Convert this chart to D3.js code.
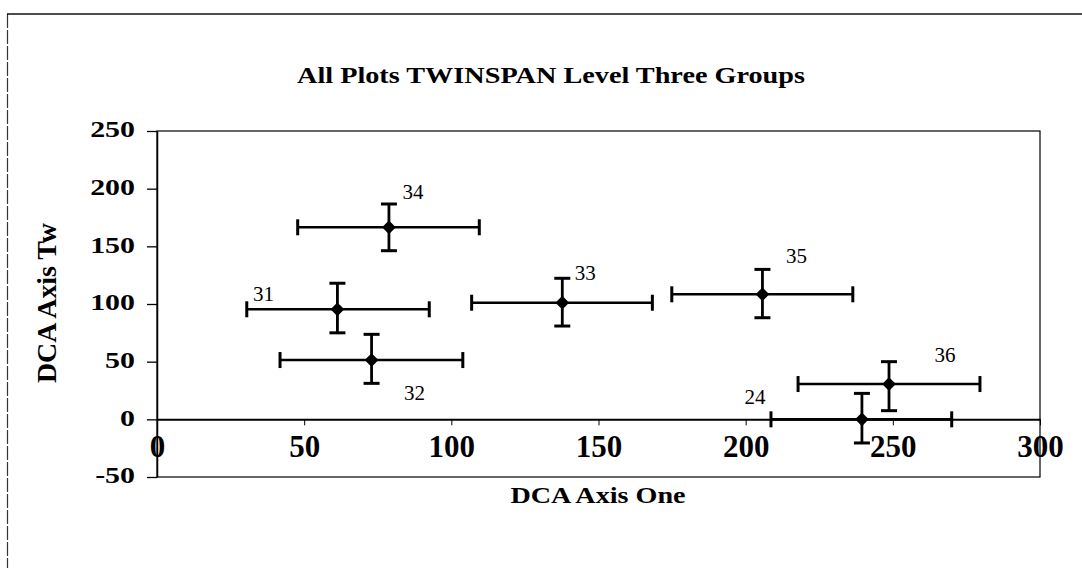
<!DOCTYPE html>
<html>
<head>
<meta charset="utf-8">
<script src="https://cdn.jsdelivr.net/npm/d3@7"></script>
<style>
  html, body { margin: 0; padding: 0; background: #fff; }
  svg { display: block; }
  text { font-family: "Liberation Serif", "Times New Roman", serif; fill: #000; }
</style>
</head>
<body>
<svg id="chart" width="1082" height="568"></svg>
<script>
// ---- data ----
const groups = ["31", "32", "33", "34", "35", "36", "24"];
const xMean  = [61.3, 72.9, 137.7, 78.8, 205.7, 248.7, 239.5];
const yMean  = [95.4, 51.4, 101.1, 166.5, 108.4, 30.6, 0];
const xLow   = [30.5, 41.8, 106.9, 47.8, 174.9, 217.8, 208.6];
const xHigh  = [92.5, 103.9, 168.3, 109.5, 236.4, 279.6, 270.0];
const yLow   = [75.0, 31.2, 80.9, 146.2, 88.1, 7.5, -20.5];
const yHigh  = [118.0, 73.7, 122.3, 186.7, 130.0, 50.0, 22.5];
const xTicks = [0, 50, 100, 150, 200, 250, 300];
const yTicks = [-50, 0, 50, 100, 150, 200, 250];
const titleText = "All Plots TWINSPAN Level Three Groups";
const xTitle = "DCA Axis One";
const yTitle = "DCA Axis Tw";

// ---- layout (pixel offsets of the group labels relative to their point) ----
const labelOffset = {
  "31": [-74, -16], "32": [43, 33], "33": [23, -30], "34": [24, -36],
  "35": [34, -39], "36": [56, -29], "24": [-107, -23]
};

const svg = d3.select("#chart");
const plot = { left: 157, right: 1040, top: 131, bottom: 477 };

const x = d3.scaleLinear().domain([0, 300]).range([plot.left, plot.right]);
const y = d3.scaleLinear().domain([-50, 250]).range([plot.bottom, plot.top]);

// outer frame (only left and top visible)
svg.append("line").attr("x1", 7.5).attr("x2", 7.5).attr("y1", 14).attr("y2", 568)
  .attr("stroke", "#333").attr("stroke-width", 1.2).attr("stroke-dasharray", "14,2");
svg.append("line").attr("x1", 7).attr("x2", 1082).attr("y1", 14).attr("y2", 14)
  .attr("stroke", "#111").attr("stroke-width", 1.6);

// title
svg.append("text")
  .attr("x", 551).attr("y", 83)
  .attr("text-anchor", "middle")
  .attr("font-size", 23).attr("font-weight", "bold")
  .attr("textLength", 508).attr("lengthAdjust", "spacingAndGlyphs")
  .text(titleText);

// plot border
svg.append("rect")
  .attr("x", plot.left).attr("y", plot.top)
  .attr("width", plot.right - plot.left).attr("height", plot.bottom - plot.top)
  .attr("fill", "none").attr("stroke", "#000").attr("stroke-width", 1.2);

// y axis
const yAxis = d3.axisLeft(y).tickValues(yTicks).tickFormat(d => String(d))
  .tickSize(10).tickSizeOuter(0).tickPadding(12);
const gy = svg.append("g").attr("transform", `translate(${plot.left},0)`).call(yAxis);
gy.select(".domain").attr("stroke", "#000").attr("stroke-width", 1.5);
gy.selectAll(".tick line").attr("stroke", "#000").attr("stroke-width", 1.3);
gy.selectAll(".tick text")
  .attr("font-size", 23).attr("font-weight", "bold")
  .attr("font-family", "Liberation Serif, serif")
  .attr("dy", "0.26em")
  .each(function () {
    const w = this.getComputedTextLength();
    d3.select(this).attr("textLength", w * 1.3).attr("lengthAdjust", "spacingAndGlyphs");
  });

// x axis at y = 0
const xAxis = d3.axisBottom(x).tickValues(xTicks).tickFormat(d => String(d))
  .tickSize(6).tickSizeOuter(0).tickPadding(18);
const gx = svg.append("g").attr("transform", `translate(0,${y(0)})`).call(xAxis);
gx.select(".domain").attr("stroke", "#000").attr("stroke-width", 2);
gx.selectAll(".tick line").attr("stroke", "#000").attr("stroke-width", 1);
gx.selectAll(".tick text")
  .attr("font-size", 31).attr("font-weight", "bold")
  .attr("font-family", "Liberation Serif, serif")
  .attr("dy", "0.45em");

// axis titles
svg.append("text")
  .attr("x", 598).attr("y", 503)
  .attr("text-anchor", "middle")
  .attr("font-size", 24).attr("font-weight", "bold")
  .attr("textLength", 175).attr("lengthAdjust", "spacingAndGlyphs")
  .text(xTitle);

svg.append("text")
  .attr("transform", `translate(56,303) rotate(-90)`)
  .attr("text-anchor", "middle")
  .attr("font-size", 27).attr("font-weight", "bold")
  .attr("textLength", 160).attr("lengthAdjust", "spacingAndGlyphs")
  .text(yTitle);

// error bars + points
const data = groups.map((g, i) => ({
  g, x: xMean[i], y: yMean[i], x0: xLow[i], x1: xHigh[i], y0: yLow[i], y1: yHigh[i]
}));

const cap = 8;
const marks = svg.append("g");
const bars = marks.selectAll("g.pt").data(data).join("g").attr("class", "pt");

bars.append("line")
  .attr("x1", d => x(d.x0)).attr("x2", d => x(d.x1))
  .attr("y1", d => y(d.y)).attr("y2", d => y(d.y))
  .attr("stroke", "#000").attr("stroke-width", 2.6);
bars.append("line")
  .attr("x1", d => x(d.x)).attr("x2", d => x(d.x))
  .attr("y1", d => y(d.y0)).attr("y2", d => y(d.y1))
  .attr("stroke", "#000").attr("stroke-width", 2.8);
// horizontal bar caps
["x0", "x1"].forEach(k => {
  bars.append("line")
    .attr("x1", d => x(d[k])).attr("x2", d => x(d[k]))
    .attr("y1", d => y(d.y) - cap).attr("y2", d => y(d.y) + cap)
    .attr("stroke", "#000").attr("stroke-width", 3);
});
// vertical bar caps
["y0", "y1"].forEach(k => {
  bars.append("line")
    .attr("x1", d => x(d.x) - cap).attr("x2", d => x(d.x) + cap)
    .attr("y1", d => y(d[k])).attr("y2", d => y(d[k]))
    .attr("stroke", "#000").attr("stroke-width", 3);
});
// diamonds
bars.append("path")
  .attr("d", d3.symbol().type(d3.symbolDiamond2).size(120))
  .attr("transform", d => `translate(${x(d.x)},${y(d.y)})`)
  .attr("fill", "#000");

// group labels
bars.append("text")
  .attr("x", d => x(d.x) + labelOffset[d.g][0])
  .attr("y", d => y(d.y) + labelOffset[d.g][1])
  .attr("dy", "0.35em")
  .attr("text-anchor", "middle")
  .attr("font-size", 21)
  .text(d => d.g);
</script>
</body>
</html>
